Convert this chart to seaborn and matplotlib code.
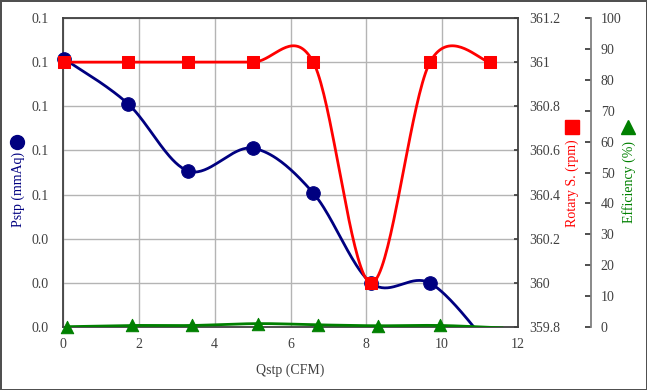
import numpy as np
import pandas as pd
import matplotlib
matplotlib.use("Agg")
import matplotlib.pyplot as plt
from matplotlib.lines import Line2D
from matplotlib.ticker import FuncFormatter, MultipleLocator
import seaborn as sns

# Dados
qstp = [0.03, 1.71, 3.30, 5.01, 6.60, 8.13, 9.68, 11.27]
pstp = [0.1215, 0.1012, 0.0707, 0.081, 0.0607, 0.0199, 0.0199, -0.009]
rotary = [361, 361, 361, 361, 361, 360, 361, 361]
qstp_eff = [0.10, 1.83, 3.40, 5.15, 6.73, 8.32, 9.93, 11.6]
efficiency = [0.1, 0.5, 0.5, 1.1, 0.7, 0.4, 0.5, -0.3]

navy = "#000080"
red = "#FF0000"
green = "#008000"
txt = "#404040"

sns.set_theme(style="white")
plt.rcParams['font.family'] = ['Liberation Serif', 'DejaVu Sans']
plt.rcParams['font.size'] = 10


# Curva suavizada estilo Excel (Bezier com tensão 1/6)
def suavizar(x, y, n=40):
    p = np.column_stack([x, y]).astype(float)
    xs, ys = [], []
    for i in range(len(p) - 1):
        p0 = p[max(i - 1, 0)]
        p1 = p[i]
        p2 = p[i + 1]
        p3 = p[min(i + 2, len(p) - 1)]
        c1 = p1 + (p2 - p0) / 6
        c2 = p2 - (p3 - p1) / 6
        t = np.linspace(0, 1, n)[:, None]
        seg = ((1 - t) ** 3) * p1 + 3 * ((1 - t) ** 2) * t * c1 + 3 * (1 - t) * t ** 2 * c2 + t ** 3 * p2
        xs.extend(seg[:, 0])
        ys.extend(seg[:, 1])
    return pd.DataFrame({'x': xs, 'y': ys})


fig = plt.figure(figsize=(6.47, 3.90), dpi=100)
fig.patch.set_edgecolor('#505050')
fig.patch.set_linewidth(2)
ax = fig.add_axes([63 / 647, 63 / 390, 455 / 647, 309 / 390])
ax2 = ax.twinx()
ax3 = ax.twinx()

# Pstp
curva = suavizar(qstp, pstp)
sns.lineplot(data=curva, x='x', y='y', ax=ax, color=navy, linewidth=2, sort=False, estimator=None)
pts = pd.DataFrame({'x': qstp, 'y': pstp})
pts = pts[pts['y'] >= 0]
sns.scatterplot(data=pts, x='x', y='y', ax=ax, color=navy, marker='o', s=95, edgecolor=navy, clip_on=False, zorder=5)

# Rotary
curva = suavizar(qstp, rotary)
sns.lineplot(data=curva, x='x', y='y', ax=ax2, color=red, linewidth=2, sort=False, estimator=None)
pts = pd.DataFrame({'x': qstp, 'y': rotary})
sns.scatterplot(data=pts, x='x', y='y', ax=ax2, color=red, marker='s', s=85, edgecolor=red, clip_on=False, zorder=5)

# Efficiency
curva = suavizar(qstp_eff, efficiency)
sns.lineplot(data=curva, x='x', y='y', ax=ax3, color=green, linewidth=2, sort=False, estimator=None)
pts = pd.DataFrame({'x': qstp_eff, 'y': efficiency})
pts = pts[pts['y'] >= 0]
sns.scatterplot(data=pts, x='x', y='y', ax=ax3, color=green, marker='^', s=80, edgecolor=green, clip_on=False, zorder=5)

# Eixos
ax.set_xlim(0, 12)
ax.set_ylim(0, 0.14)
ax.xaxis.set_major_locator(MultipleLocator(2))
ax.yaxis.set_major_locator(MultipleLocator(0.02))
ax.yaxis.set_major_formatter(FuncFormatter(lambda v, p: f"{v:.1f}"))
ax.grid(True, color='#b4b4b4', linewidth=1)
ax.tick_params(axis='both', length=0, colors=txt, labelsize=10)
ax.tick_params(axis='y', pad=10.5)
ax.tick_params(axis='x', pad=8)
ax.set_xlabel("Qstp (CFM)", color=txt, fontsize=10, labelpad=9)
ax.set_ylabel("")
for s in ax.spines.values():
    s.set_color('#404040')
    s.set_linewidth(1.3)

ax2.set_ylim(359.8, 361.2)
ax2.yaxis.set_major_locator(MultipleLocator(0.2))
ax2.yaxis.set_major_formatter(FuncFormatter(lambda v, p: f"{round(v, 1):g}"))
ax2.tick_params(axis='y', direction='in', length=3, colors=txt, labelsize=10, pad=8)
ax2.set_ylabel("")
for s in ax2.spines.values():
    s.set_visible(False)

ax3.set_ylim(0, 100)
ax3.yaxis.set_major_locator(MultipleLocator(10))
ax3.spines['right'].set_position(('axes', 528 / 455))
for k, s in ax3.spines.items():
    s.set_visible(k == 'right')
ax3.spines['right'].set_color('#808080')
ax3.spines['right'].set_linewidth(1.3)
ax3.tick_params(axis='y', direction='in', length=4, width=1.3, colors=txt, labelsize=10, pad=7)
ax3.set_ylabel("")

# Rótulos dos eixos com símbolos
fig.text(18 / 647, 1 - 189 / 390, "Pstp (mmAq)", rotation=90, color=navy, fontsize=10, ha='center', va='center')
fig.add_artist(Line2D([17 / 647], [1 - 142 / 390], marker='o', markersize=10, color=navy, transform=fig.transFigure))
fig.text(572 / 647, 1 - 183 / 390, "Rotary S. (rpm)", rotation=90, color=red, fontsize=10, ha='center', va='center')
fig.add_artist(Line2D([572 / 647], [1 - 127 / 390], marker='s', markersize=9.5, color=red, transform=fig.transFigure))
fig.text(629 / 647, 1 - 182 / 390, "Efficiency (%)", rotation=90, color=green, fontsize=10, ha='center', va='center')
fig.add_artist(Line2D([628 / 647], [1 - 127 / 390], marker='^', markersize=10, color=green, transform=fig.transFigure))

fig.savefig("out.png", dpi=100, edgecolor=fig.get_edgecolor())
